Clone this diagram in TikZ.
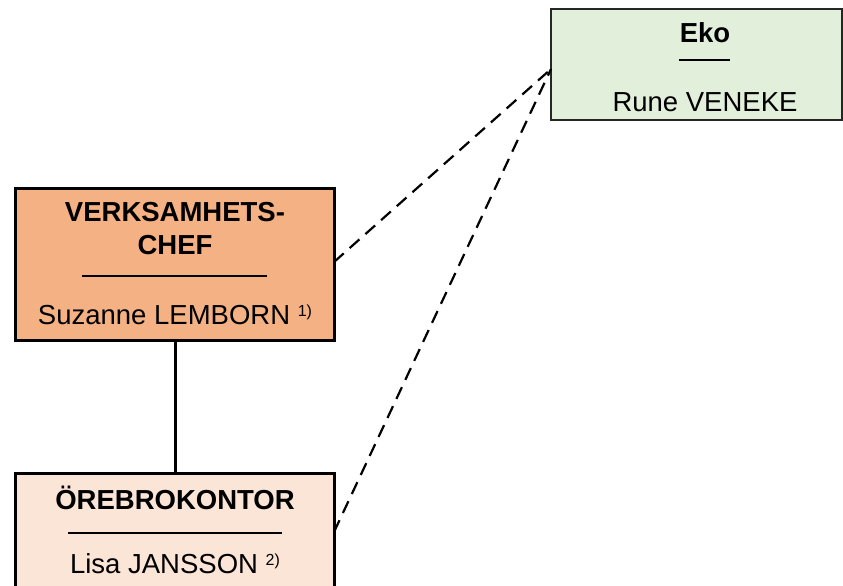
\documentclass[tikz,border=0pt]{standalone}
\usepackage{fontspec}
\setmainfont{Liberation Sans}
\definecolor{orangefill}{HTML}{F4B183}
\definecolor{peachfill}{HTML}{FBE5D6}
\definecolor{greenfill}{HTML}{E2EFDA}
\tikzset{
  thickbox/.style={draw=black, line width=3pt},
  thinbox/.style={draw=black!85, line width=1.8pt},
  lbl/.style={inner sep=0pt, font=\fontsize{27.5}{35}\selectfont, align=center},
  boldlbl/.style={lbl, font=\bfseries\fontsize{27.5}{33}\selectfont},
  sep/.style={line width=1.6pt},
  dashconn/.style={line width=2.2pt, dash pattern=on 13pt off 8pt},
  solidconn/.style={line width=3pt}
}
\newcommand{\supnote}[1]{{\fontsize{16}{16}\selectfont\raisebox{0.5em}{#1}}}
\begin{document}
\begin{tikzpicture}[x=1pt,y=-1pt]
\useasboundingbox (0,0) rectangle (843,586);
% boxes
\fill[greenfill] (551,9) rectangle (842,120);
\draw[thinbox] (551,9) rectangle (842,120);
\fill[orangefill] (15,188) rectangle (334,340);
\draw[thickbox] (15,188) rectangle (334,340);
\fill[peachfill] (15,473) rectangle (334,600);
\draw[thickbox] (15,600) -- (15,473) -- (334,473) -- (334,600);
% anchors
\coordinate (ekoL) at (551,69);
\coordinate (vcR) at (334,262);
\coordinate (orR) at (334,532);
\coordinate (vcB) at (175,340);
\coordinate (orT) at (175,473);
% texts
\node[boldlbl] (eko) at (705,33) {Eko};
\draw[sep] (679,60) -- (730,60);
\node[lbl] (rune) at (705,102) {Rune VENEKE};
\node[boldlbl] (vc) at (175,229) {VERKSAMHETS-\\CHEF};
\draw[sep] (82,276) -- (267,276);
\node[lbl] (sl) at (175,315) {Suzanne LEMBORN \supnote{1)}};
\node[boldlbl] (or) at (175,498) {ÖREBROKONTOR};
\draw[sep] (68,533) -- (282,533);
\node[lbl] (lj) at (175,564) {Lisa JANSSON \supnote{2)}};
% connectors
\draw[solidconn] (vcB) -- (orT);
\draw[dashconn] (vcR) -- (ekoL);
\draw[dashconn] (orR) -- (ekoL);
\end{tikzpicture}
\end{document}
